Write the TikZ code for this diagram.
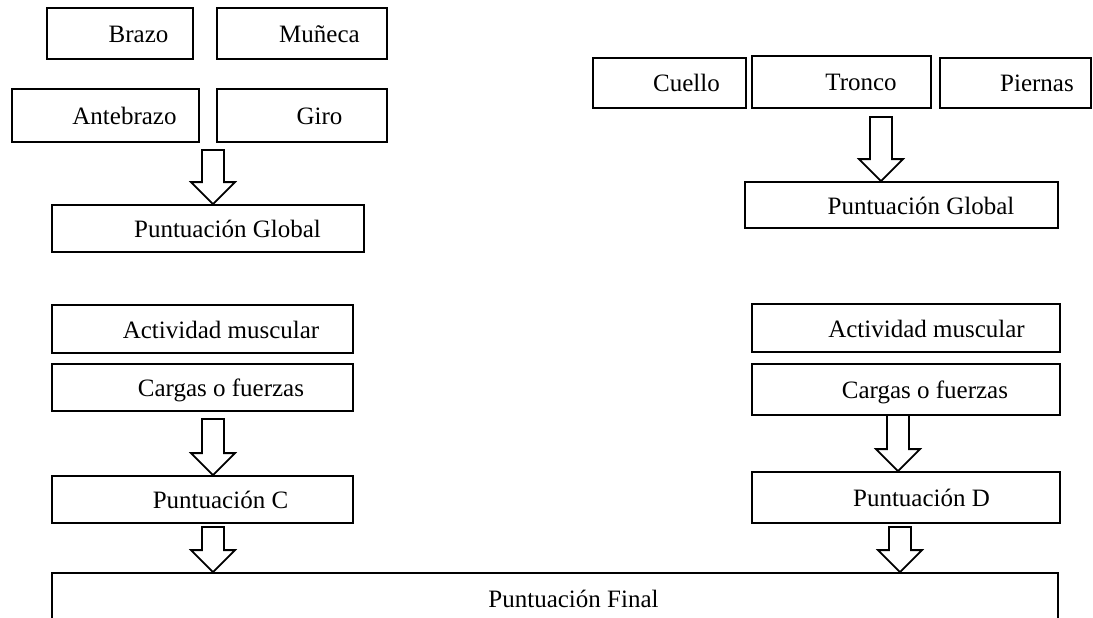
\documentclass[tikz,border=0pt]{standalone}
\usepackage{fontspec}
\setmainfont{Liberation Serif}
\usetikzlibrary{calc}

\begin{document}
\begin{tikzpicture}[x=1pt, y=-1pt]
        % Define styles
        \tikzset{
            box/.style={rectangle, draw, line width=1.8pt, inner sep=0pt, text height=18pt, text depth=0pt, font=\fontsize{25}{30}\selectfont},
            blockarrow/.style={draw, line width=1.8pt, to path={
                let \p1=(\tikztostart), \p2=(\tikztotarget) in
                (\x1-11pt,\y1) -- (\x1+11pt,\y1) -- (\x1+11pt,\y2+22pt) -- (\x1+22pt,\y2+22pt)
                -- (\x1,\y2) -- (\x1-22pt,\y2+22pt) -- (\x1-11pt,\y2+22pt) -- cycle}}
        }
        \useasboundingbox (0,0) rectangle (1093,618);

        % Upper limb
        \node[box, minimum width=146pt, minimum height=51pt] (brazo) at (120,33.5) {\hspace*{37pt}Brazo};
        \node[box, minimum width=170pt, minimum height=51pt] (muneca) at (302,33.5) {\hspace*{35pt}Muñeca};
        \node[box, minimum width=187pt, minimum height=53pt] (antebrazo) at (105.5,115.5) {\hspace*{38pt}Antebrazo};
        \node[box, minimum width=170pt, minimum height=53pt] (giro) at (302,115.5) {\hspace*{35pt}Giro};
        \node[box, minimum width=312pt, minimum height=47pt] (global_a) at (208,228.5) {\hspace*{39pt}Puntuación Global};

        % Neck, trunk, legs
        \node[box, minimum width=153pt, minimum height=50pt] (cuello) at (669.5,83) {\hspace*{34pt}Cuello};
        \node[box, minimum width=179pt, minimum height=52pt] (tronco) at (841.5,82) {\hspace*{39pt}Tronco};
        \node[box, minimum width=151pt, minimum height=50pt] (piernas) at (1015.5,83) {\hspace*{43pt}Piernas};
        \node[box, minimum width=313pt, minimum height=46pt] (global_b) at (901.5,205) {\hspace*{39pt}Puntuación Global};

        % Muscle activity and loads
        \node[box, minimum width=301pt, minimum height=48pt] (actividad_a) at (202.5,329) {\hspace*{37pt}Actividad muscular};
        \node[box, minimum width=301pt, minimum height=47pt] (cargas_a) at (202.5,387.5) {\hspace*{37pt}Cargas o fuerzas};
        \node[box, minimum width=301pt, minimum height=47pt] (punt_c) at (202.5,499.5) {\hspace*{36pt}Puntuación C};
        \node[box, minimum width=308pt, minimum height=48pt] (actividad_b) at (906,328) {\hspace*{41pt}Actividad muscular};
        \node[box, minimum width=308pt, minimum height=51pt] (cargas_b) at (906,389.5) {\hspace*{38pt}Cargas o fuerzas};
        \node[box, minimum width=308pt, minimum height=51pt] (punt_d) at (906,497.5) {\hspace*{31pt}Puntuación D};

        % Final score
        \node[box, minimum width=1006pt, minimum height=50pt] (final) at (555,598) {\hspace*{37pt}Puntuación Final};

        % Arrows
        \coordinate (top_1) at (213,150);
        \coordinate (top_2) at (881,117);
        \coordinate (top_3) at (213,419);
        \coordinate (top_4) at (213,527);
        \coordinate (top_5) at (898,415);
        \coordinate (top_6) at (900,527);
        \path[blockarrow] (top_1) to (global_a.north -| top_1);
        \path[blockarrow] (top_2) to (global_b.north -| top_2);
        \path[blockarrow] (top_3) to (punt_c.north -| top_3);
        \path[blockarrow] (top_4) to (final.north -| top_4);
        \path[blockarrow] (top_5) to (punt_d.north -| top_5);
        \path[blockarrow] (top_6) to (final.north -| top_6);
    \end{tikzpicture}
\end{document}
